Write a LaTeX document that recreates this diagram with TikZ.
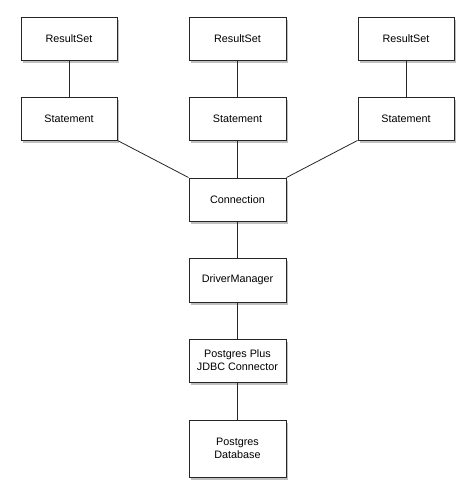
\documentclass[tikz,border=0pt]{standalone}
\usepackage{fontspec}
\setmainfont{Liberation Sans}
\usetikzlibrary{shadows}
\begin{document}
\begin{tikzpicture}[x=1pt,y=-1pt,
  box/.style={draw=black!85, line width=0.9pt, fill=white, inner sep=0pt,
    font=\fontsize{10.8}{12.8}\selectfont, align=center,
    drop shadow={shadow xshift=1.5pt, shadow yshift=-2.5pt, opacity=0.45, fill=black!55}},
  link/.style={draw=black!85, line width=0.8pt}]
\useasboundingbox (0,0) rectangle (474,499);
\newcommand{\bx}[6]{\node[box, minimum width=#4-#2, minimum height=#5-#3] (#1) at ({(#2+#4)/2},{(#3+#5)/2}) {#6};}
\bx{r1}{21}{17}{117}{60}{ResultSet}
\bx{r2}{189}{17}{286}{60}{ResultSet}
\bx{r3}{358}{17}{454}{60}{ResultSet}
\bx{s1}{21}{97}{117}{140}{Statement}
\bx{s2}{189}{97}{286}{140}{Statement}
\bx{s3}{358}{97}{454}{140}{Statement}
\bx{c}{189}{178}{286}{221}{Connection}
\bx{d}{189}{258}{286}{302}{DriverManager}
\bx{p}{189}{339}{286}{382}{Postgres Plus\\JDBC Connector}
\bx{db}{189}{420}{286}{477}{Postgres\\Database}
\path[link] (r1) -- (s1);
\path[link] (r2) -- (s2);
\path[link] (r3) -- (s3);
\path[link] (s2) -- (c);
\path[link] (s1.south east) -- (c.north west);
\path[link] (s3.south west) -- (c.north east);
\path[link] (c) -- (d);
\path[link] (d) -- (p);
\path[link] (p) -- (db);
\end{tikzpicture}
\end{document}
